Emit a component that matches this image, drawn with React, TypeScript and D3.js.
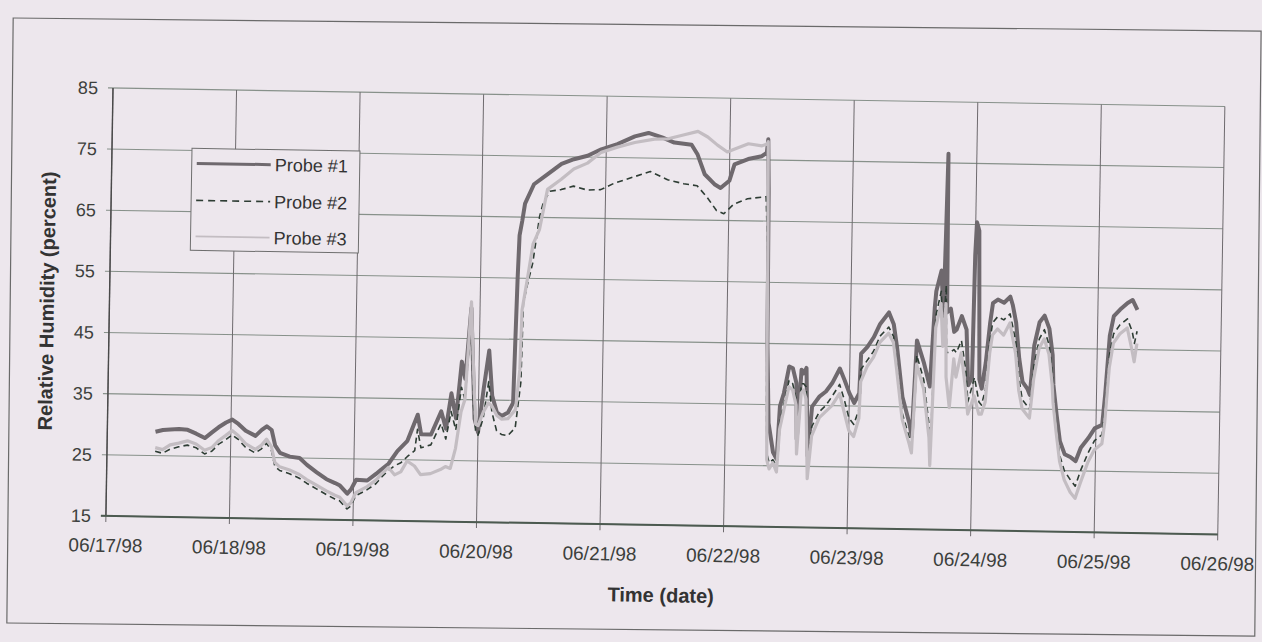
import React from 'react';
import * as d3 from 'd3';

// ---------- data ----------
const yTicks = [15, 25, 35, 45, 55, 65, 75, 85];
const xTickDays = [17, 18, 19, 20, 21, 22, 23, 24, 25, 26];
const xTickLabels = ['06/17/98', '06/18/98', '06/19/98', '06/20/98', '06/21/98', '06/22/98', '06/23/98', '06/24/98', '06/25/98', '06/26/98'];
const seriesNames = ['Probe #1', 'Probe #2', 'Probe #3'];

// [day of June 1998, relative humidity %]
const probe1: [number, number][] = [
  [17.39, 28.9], [17.45, 29.2], [17.51, 29.3], [17.58, 29.4], [17.65, 29.3], [17.72, 28.7], [17.79, 28.0], [17.85, 29.0],
  [17.90, 29.8], [17.96, 30.6], [18.01, 31.1], [18.06, 30.4], [18.12, 29.3], [18.20, 28.5], [18.25, 29.5], [18.29, 30.1],
  [18.33, 29.5], [18.36, 27.0], [18.40, 25.8], [18.48, 25.2], [18.56, 25.0], [18.62, 23.9], [18.70, 22.7], [18.78, 21.6],
  [18.85, 21.0], [18.89, 20.6], [18.95, 19.3], [18.98, 20.0], [19.02, 21.6], [19.11, 21.5], [19.18, 22.6], [19.22, 23.3],
  [19.28, 24.3], [19.35, 26.4], [19.43, 28.1], [19.51, 32.4], [19.54, 29.2], [19.62, 29.2], [19.70, 33.0], [19.74, 30.2],
  [19.78, 36.0], [19.82, 31.9], [19.86, 41.2], [19.89, 38.4], [19.93, 50.0], [19.97, 31.9], [20.00, 29.7], [20.04, 36.8],
  [20.08, 43.1], [20.11, 35.7], [20.15, 33.0], [20.19, 32.4], [20.24, 33.0], [20.28, 34.6], [20.29, 45.0], [20.30, 55.0],
  [20.31, 62.0], [20.33, 64.4], [20.35, 67.2], [20.42, 70.4], [20.53, 72.1], [20.64, 73.8], [20.74, 74.6], [20.85, 75.2],
  [20.96, 76.3], [21.09, 77.2], [21.23, 78.5], [21.34, 79.1], [21.45, 78.4], [21.55, 77.6], [21.69, 77.3], [21.74, 75.7],
  [21.80, 72.5], [21.88, 70.9], [21.93, 70.3], [22.00, 71.5], [22.04, 74.2], [22.15, 75.1], [22.26, 75.6], [22.30, 76.2],
  [22.31, 78.4], [22.32, 70.0], [22.33, 45.0], [22.35, 32.0], [22.39, 27.2], [22.42, 26.1], [22.44, 34.8], [22.47, 36.9],
  [22.51, 41.3], [22.54, 41.0], [22.57, 38.6], [22.58, 29.4], [22.61, 40.8], [22.63, 40.2], [22.65, 41.1], [22.67, 26.7],
  [22.70, 34.8], [22.76, 36.5], [22.81, 37.3], [22.86, 38.7], [22.92, 41.1], [22.96, 39.2], [23.00, 37.1], [23.04, 35.5],
  [23.08, 37.1], [23.09, 43.6], [23.14, 44.7], [23.19, 46.3], [23.24, 48.5], [23.31, 50.4], [23.35, 48.5], [23.38, 44.7],
  [23.43, 36.6], [23.49, 32.3], [23.51, 30.2], [23.54, 45.9], [23.60, 42.2], [23.65, 38.4], [23.68, 51.4], [23.69, 54.0],
  [23.73, 57.4], [23.75, 50.0], [23.76, 62.0], [23.77, 76.5], [23.78, 50.6], [23.81, 51.2], [23.84, 47.4], [23.86, 47.8],
  [23.90, 50.0], [23.94, 47.8], [23.96, 38.7], [23.99, 40.0], [24.00, 60.0], [24.01, 65.4], [24.03, 64.0], [24.05, 39.7],
  [24.07, 38.2], [24.10, 42.5], [24.13, 49.0], [24.15, 52.2], [24.19, 52.8], [24.24, 52.3], [24.29, 53.3], [24.31, 52.0],
  [24.34, 49.1], [24.37, 43.2], [24.40, 39.4], [24.44, 38.3], [24.46, 37.3], [24.49, 45.4], [24.53, 49.2], [24.57, 50.3],
  [24.61, 48.2], [24.64, 43.9], [24.65, 39.0], [24.68, 34.1], [24.71, 29.8], [24.75, 27.7], [24.80, 27.2], [24.84, 26.6],
  [24.88, 28.8], [24.94, 30.4], [24.99, 32.0], [25.05, 32.6], [25.07, 37.5], [25.10, 47.2], [25.13, 50.4], [25.18, 51.5],
  [25.24, 52.6], [25.28, 53.1], [25.32, 51.5],
];

const probe2: [number, number][] = [
  [17.39, 25.7], [17.45, 25.4], [17.51, 26.1], [17.58, 26.5], [17.65, 26.8], [17.72, 26.4], [17.79, 25.4], [17.85, 25.9],
  [17.90, 27.0], [17.96, 27.8], [18.01, 28.6], [18.06, 27.9], [18.12, 26.6], [18.20, 25.7], [18.25, 26.4], [18.29, 27.3],
  [18.33, 26.2], [18.36, 23.6], [18.40, 22.9], [18.48, 22.4], [18.56, 21.7], [18.62, 20.9], [18.70, 20.0], [18.78, 19.1],
  [18.85, 18.4], [18.89, 18.1], [18.95, 16.8], [18.98, 17.3], [19.02, 19.0], [19.11, 20.0], [19.18, 21.0], [19.22, 22.0],
  [19.28, 23.2], [19.33, 24.0], [19.38, 24.5], [19.43, 25.5], [19.49, 26.5], [19.51, 30.0], [19.54, 27.0], [19.62, 27.5],
  [19.70, 31.0], [19.74, 28.5], [19.78, 33.0], [19.82, 30.0], [19.86, 37.0], [19.89, 35.0], [19.93, 48.0], [19.96, 34.0],
  [19.98, 30.0], [20.00, 29.2], [20.04, 32.0], [20.08, 38.0], [20.11, 33.0], [20.15, 30.0], [20.19, 29.4], [20.24, 29.2],
  [20.30, 30.5], [20.34, 38.0], [20.35, 50.9], [20.38, 54.0], [20.42, 57.5], [20.47, 65.2], [20.50, 67.6], [20.55, 69.3],
  [20.64, 69.6], [20.74, 70.2], [20.85, 69.6], [20.96, 69.7], [21.07, 70.8], [21.23, 71.9], [21.36, 72.8], [21.50, 71.5],
  [21.63, 70.9], [21.74, 70.6], [21.82, 68.8], [21.90, 66.6], [21.96, 66.1], [22.04, 67.7], [22.15, 68.6], [22.26, 68.9],
  [22.30, 69.0], [22.32, 60.0], [22.33, 35.0], [22.34, 27.0], [22.36, 25.5], [22.39, 26.0], [22.42, 25.0], [22.44, 32.0],
  [22.47, 35.0], [22.51, 39.0], [22.54, 38.5], [22.57, 36.0], [22.58, 28.0], [22.61, 38.5], [22.63, 38.5], [22.65, 38.0],
  [22.67, 24.5], [22.70, 31.5], [22.76, 34.0], [22.81, 35.0], [22.86, 36.5], [22.92, 38.5], [22.96, 36.0], [23.00, 33.0],
  [23.04, 32.0], [23.08, 34.5], [23.09, 41.0], [23.14, 42.5], [23.19, 44.0], [23.24, 46.5], [23.31, 48.0], [23.35, 46.5],
  [23.38, 42.0], [23.43, 34.0], [23.49, 30.0], [23.51, 28.5], [23.54, 43.5], [23.60, 39.5], [23.65, 32.0], [23.66, 27.0],
  [23.69, 50.0], [23.73, 54.0], [23.75, 47.0], [23.77, 55.0], [23.78, 44.0], [23.81, 44.0], [23.84, 44.5], [23.86, 44.0],
  [23.90, 46.0], [23.94, 41.0], [23.96, 36.0], [24.01, 40.0], [24.05, 36.0], [24.07, 35.5], [24.10, 38.0], [24.13, 46.0],
  [24.15, 49.0], [24.19, 50.0], [24.24, 49.5], [24.29, 50.5], [24.34, 46.0], [24.37, 40.0], [24.40, 36.5], [24.44, 35.5],
  [24.46, 35.0], [24.49, 42.0], [24.53, 46.5], [24.57, 48.0], [24.61, 45.5], [24.64, 41.0], [24.65, 37.0], [24.68, 32.0],
  [24.71, 27.5], [24.75, 25.0], [24.80, 23.5], [24.84, 22.5], [24.88, 25.0], [24.94, 28.0], [24.99, 30.0], [25.05, 31.0],
  [25.07, 35.0], [25.10, 44.0], [25.13, 47.5], [25.18, 49.0], [25.24, 50.0], [25.28, 48.0], [25.30, 46.0], [25.32, 48.0],
];

const probe3: [number, number][] = [
  [17.39, 26.3], [17.45, 26.0], [17.51, 26.8], [17.58, 27.1], [17.65, 27.5], [17.72, 27.0], [17.79, 26.0], [17.85, 26.5],
  [17.90, 27.6], [17.96, 28.5], [18.01, 29.3], [18.06, 28.5], [18.12, 27.2], [18.20, 26.3], [18.25, 27.0], [18.29, 28.0],
  [18.33, 26.8], [18.36, 24.2], [18.40, 23.5], [18.48, 23.0], [18.56, 22.3], [18.62, 21.5], [18.70, 20.6], [18.78, 19.7],
  [18.85, 19.0], [18.89, 18.7], [18.95, 17.3], [18.98, 17.8], [19.02, 19.5], [19.11, 20.5], [19.18, 21.6], [19.22, 22.5],
  [19.28, 23.7], [19.33, 22.5], [19.38, 23.0], [19.43, 24.8], [19.49, 24.0], [19.54, 22.6], [19.62, 22.8], [19.70, 23.5],
  [19.74, 24.0], [19.78, 23.7], [19.82, 27.0], [19.86, 33.0], [19.89, 35.0], [19.93, 51.0], [19.96, 38.0], [19.98, 31.0],
  [20.00, 30.8], [20.04, 33.0], [20.08, 34.5], [20.11, 34.0], [20.15, 32.5], [20.19, 31.9], [20.24, 32.0], [20.30, 33.5],
  [20.33, 40.0], [20.34, 49.8], [20.38, 55.0], [20.42, 60.6], [20.47, 63.0], [20.53, 69.6], [20.64, 71.3], [20.74, 73.0],
  [20.85, 74.0], [20.96, 75.8], [21.09, 76.7], [21.23, 77.5], [21.39, 78.1], [21.50, 78.2], [21.63, 78.9], [21.74, 79.5],
  [21.82, 78.6], [21.90, 77.3], [21.98, 76.2], [22.04, 76.7], [22.15, 77.6], [22.26, 77.3], [22.30, 77.6], [22.31, 78.0],
  [22.32, 62.0], [22.33, 40.0], [22.34, 26.0], [22.36, 24.5], [22.39, 25.5], [22.42, 24.0], [22.44, 31.0], [22.47, 34.0],
  [22.51, 38.0], [22.54, 37.5], [22.57, 35.0], [22.58, 27.0], [22.61, 37.0], [22.63, 37.5], [22.65, 36.0], [22.67, 23.0],
  [22.70, 30.0], [22.76, 33.0], [22.81, 34.0], [22.86, 35.0], [22.92, 37.0], [22.96, 34.0], [23.00, 31.0], [23.04, 30.0],
  [23.08, 33.0], [23.09, 39.0], [23.14, 41.5], [23.19, 43.0], [23.24, 45.5], [23.31, 47.0], [23.35, 45.5], [23.38, 41.0],
  [23.43, 33.0], [23.49, 29.0], [23.51, 27.5], [23.54, 42.0], [23.60, 38.0], [23.65, 30.0], [23.66, 25.5], [23.69, 48.0],
  [23.73, 52.0], [23.75, 45.0], [23.77, 52.0], [23.78, 40.0], [23.81, 35.0], [23.84, 43.0], [23.86, 40.0], [23.90, 44.0],
  [23.94, 38.0], [23.96, 34.0], [24.01, 37.0], [24.05, 34.0], [24.07, 34.0], [24.10, 36.0], [24.13, 44.0], [24.15, 47.0],
  [24.19, 48.0], [24.24, 47.0], [24.29, 49.0], [24.34, 44.0], [24.37, 38.0], [24.40, 35.0], [24.44, 34.0], [24.46, 33.5],
  [24.49, 40.0], [24.53, 45.0], [24.57, 46.5], [24.61, 44.0], [24.64, 39.0], [24.65, 36.0], [24.68, 31.0], [24.71, 26.5],
  [24.75, 23.5], [24.80, 21.5], [24.84, 20.5], [24.88, 23.0], [24.94, 26.5], [24.99, 28.5], [25.05, 29.5], [25.07, 33.0],
  [25.10, 42.0], [25.13, 46.0], [25.18, 47.5], [25.24, 48.5], [25.28, 45.0], [25.30, 43.0], [25.32, 46.0],
];

// ---------- chart ----------
const BG = '#ede7ed';
const FONT = '"Liberation Sans", Arial, Helvetica, sans-serif';

export default function App() {
  const W = 1262;
  const H = 642;
  const L = 113;
  const T = 88;
  const PW = 1112;
  const PH = 428;

  const x = d3.scaleLinear().domain([17, 26]).range([L, L + PW]);
  const y = d3.scaleLinear().domain([15, 85]).range([T + PH, T]);
  const line = d3.line<[number, number]>().x((d) => x(d[0])).y((d) => y(d[1]));

  const styles = [
    { stroke: '#6f696e', width: 4, dash: undefined as string | undefined },
    { stroke: '#2e3d34', width: 1.6, dash: '6,4' },
    { stroke: '#c3bdc2', width: 3.2, dash: undefined as string | undefined },
  ];
  const data = [probe1, probe2, probe3];

  const legendRows = [162, 199, 235];

  return (
    <svg
      width={W}
      height={H}
      viewBox={`0 0 ${W} ${H}`}
      style={{ position: 'absolute', left: 0, top: 0, background: BG }}
    >
      <rect x={0} y={0} width={W} height={H} fill={BG} />
      {/* outer chart frame (scanned, slightly tilted) */}
      <g transform="rotate(0.6 631 325)">
        <rect x={10} y={24.5} width={1248} height={605} fill="none" stroke="#6a6a6a" strokeWidth={1.2} />
      </g>

      <g transform={`rotate(0.95 ${L} ${T})`}>
        {/* horizontal grid */}
        {yTicks.map((t) => (
          <line key={'h' + t} x1={L - 5} x2={L + PW} y1={y(t)} y2={y(t)} stroke="#87918a" strokeWidth={1.1} />
        ))}
        {/* vertical grid */}
        {xTickDays.map((d) => (
          <line key={'v' + d} x1={x(d)} x2={x(d)} y1={T} y2={T + PH + 6} stroke="#6e6a6e" strokeWidth={1} />
        ))}
        {/* axes */}
        <line x1={L} x2={L} y1={T} y2={T + PH} stroke="#4a4a4a" strokeWidth={1.4} />
        <line x1={L - 5} x2={L + PW} y1={T + PH} y2={T + PH} stroke="#4c5a50" strokeWidth={2} />

        {/* y tick labels */}
        {yTicks.map((t) => (
          <text key={'yl' + t} x={98} y={y(t)} dy="0.35em" textAnchor="end" fontFamily={FONT} fontSize={18} fill="#3c3f3c">
            {t}
          </text>
        ))}
        {/* x tick labels */}
        {xTickDays.map((d, i) => (
          <text key={'xl' + d} x={x(d)} y={T + PH + 36} textAnchor="middle" fontFamily={FONT} fontSize={19} fill="#3c3f3c">
            {xTickLabels[i]}
          </text>
        ))}

        {/* axis titles */}
        <text x={L + PW / 2} y={593} textAnchor="middle" fontFamily={FONT} fontSize={20} fontWeight="bold" fill="#333">
          Time (date)
        </text>
        <text
          transform={`translate(57.5, ${T + PH / 2}) rotate(-90)`}
          textAnchor="middle"
          fontFamily={FONT}
          fontSize={20}
          fontWeight="bold"
          fill="#333"
        >
          Relative Humidity (percent)
        </text>

        {/* series */}
        {data.map((s, i) => (
          <path
            key={'s' + i}
            d={line(s) || ''}
            fill="none"
            stroke={styles[i].stroke}
            strokeWidth={styles[i].width}
            strokeDasharray={styles[i].dash}
            strokeLinejoin="round"
          />
        ))}

        {/* legend */}
        <rect x={193} y={147} width={168} height={102} fill={BG} stroke="#6e6e6e" strokeWidth={1} />
        {seriesNames.map((n, i) => (
          <g key={'lg' + i}>
            <line
              x1={198}
              x2={272}
              y1={legendRows[i]}
              y2={legendRows[i]}
              stroke={styles[i].stroke}
              strokeWidth={i === 0 ? 3 : i === 1 ? 1.6 : 1.6}
              strokeDasharray={i === 1 ? '7,5' : undefined}
            />
            <text x={276} y={legendRows[i]} dy="0.36em" fontFamily={FONT} fontSize={18} fill="#333">
              {n}
            </text>
          </g>
        ))}
      </g>
    </svg>
  );
}
